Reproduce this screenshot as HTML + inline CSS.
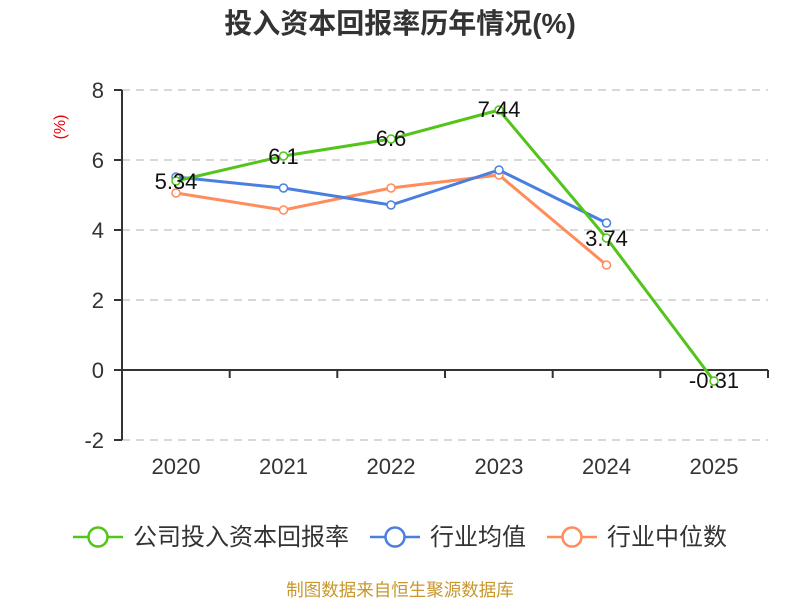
<!DOCTYPE html>
<html><head><meta charset="utf-8"><style>
html,body{margin:0;padding:0;background:#fff;}
svg{display:block;font-family:"Liberation Sans","Noto Sans CJK SC",sans-serif;}
</style></head><body>
<svg width="800" height="600" viewBox="0 0 800 600">
<text x="400" y="33" text-anchor="middle" font-size="28" font-weight="bold" fill="#333">投入资本回报率历年情况(%)</text>
<text transform="translate(65,127) rotate(-90)" text-anchor="middle" font-size="16" fill="#e00">(%)</text>
<g stroke="#ccc" stroke-width="1.5" stroke-dasharray="8,6">
<line x1="122" y1="90" x2="768" y2="90"/><line x1="122" y1="160" x2="768" y2="160"/>
<line x1="122" y1="230" x2="768" y2="230"/><line x1="122" y1="300" x2="768" y2="300"/>
<line x1="122" y1="440" x2="768" y2="440"/>
</g>
<g stroke="#333" stroke-width="2">
<line x1="122" y1="90" x2="122" y2="440"/>
<line x1="122" y1="370" x2="768" y2="370"/>
<line x1="114" y1="90" x2="122" y2="90"/><line x1="114" y1="160" x2="122" y2="160"/>
<line x1="114" y1="230" x2="122" y2="230"/><line x1="114" y1="300" x2="122" y2="300"/>
<line x1="114" y1="370" x2="122" y2="370"/><line x1="114" y1="440" x2="122" y2="440"/>
<line x1="229.7" y1="370" x2="229.7" y2="378"/><line x1="337.3" y1="370" x2="337.3" y2="378"/>
<line x1="445" y1="370" x2="445" y2="378"/><line x1="552.7" y1="370" x2="552.7" y2="378"/>
<line x1="660.3" y1="370" x2="660.3" y2="378"/><line x1="768" y1="370" x2="768" y2="378"/>
</g>
<g font-size="22" fill="#333" text-anchor="end">
<text x="104" y="98">8</text><text x="104" y="168">6</text><text x="104" y="238">4</text>
<text x="104" y="308">2</text><text x="104" y="378">0</text><text x="104" y="448">-2</text>
</g>
<g font-size="22" fill="#333" text-anchor="middle">
<text x="176" y="474">2020</text><text x="283.5" y="474">2021</text><text x="391" y="474">2022</text>
<text x="499" y="474">2023</text><text x="606.5" y="474">2024</text><text x="714" y="474">2025</text>
</g>
<g fill="none" stroke-width="3">
<polyline stroke="#ff8c5a" points="176,193 283.5,210 391,188 499,175 606.5,265"/>
<polyline stroke="#4a7fe0" points="176,177 283.5,188 391,205 499,170 606.5,223"/>
<polyline stroke="#52c41a" points="176,181 283.5,156 391,139 499,110 606.5,238 714,381"/>
</g>
<g fill="#fff" stroke-width="1.5">
<g stroke="#ff8c5a"><circle cx="176" cy="193" r="4"/><circle cx="283.5" cy="210" r="4"/><circle cx="391" cy="188" r="4"/><circle cx="499" cy="175" r="4"/><circle cx="606.5" cy="265" r="4"/></g>
<g stroke="#4a7fe0"><circle cx="176" cy="177" r="4"/><circle cx="283.5" cy="188" r="4"/><circle cx="391" cy="205" r="4"/><circle cx="499" cy="170" r="4"/><circle cx="606.5" cy="223" r="4"/></g>
<g stroke="#52c41a"><circle cx="176" cy="181" r="4"/><circle cx="283.5" cy="156" r="4"/><circle cx="391" cy="139" r="4"/><circle cx="499" cy="110" r="4"/><circle cx="606.5" cy="238" r="4"/><circle cx="714" cy="381" r="4"/></g>
</g>
<g font-size="22" fill="#111" text-anchor="middle">
<text x="176" y="189">5.34</text><text x="283.5" y="164">6.1</text><text x="391" y="146">6.6</text>
<text x="499" y="117">7.44</text><text x="606.5" y="246">3.74</text><text x="714" y="388">-0.31</text>
</g>
<g stroke-width="2.5" fill="#fff">
<line x1="73" y1="537" x2="123" y2="537" stroke="#52c41a"/><circle cx="98" cy="537" r="9.5" stroke="#52c41a"/>
<line x1="370" y1="537" x2="420" y2="537" stroke="#4a7fe0"/><circle cx="395" cy="537" r="9.5" stroke="#4a7fe0"/>
<line x1="547" y1="537" x2="597" y2="537" stroke="#ff8c5a"/><circle cx="572" cy="537" r="9.5" stroke="#ff8c5a"/>
</g>
<g font-size="24" fill="#333">
<text x="133" y="545">公司投入资本回报率</text>
<text x="430" y="545">行业均值</text>
<text x="607" y="545">行业中位数</text>
</g>
<text x="400" y="596" text-anchor="middle" font-size="17.5" fill="#c9972a">制图数据来自恒生聚源数据库</text>
</svg>
</body></html>
